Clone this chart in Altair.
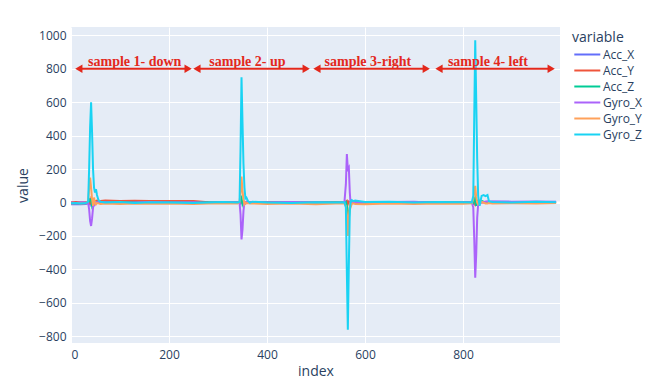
import altair as alt
import pandas as pd

# ---------------- data ----------------
index = [0, 10, 20, 30, 35, 37, 39, 41, 43, 45,
         47, 49, 51, 53, 56, 60, 70, 100, 130, 160,
         200, 250, 280, 310, 340, 344, 346, 348, 350, 352,
         354, 356, 358, 361, 365, 370, 400, 450, 500, 540,
         558, 561, 563, 565, 567, 569, 571, 573, 576, 580,
         600, 650, 700, 750, 800, 818, 821, 823, 825, 827,
         829, 831, 834, 838, 842, 846, 850, 853, 860, 900,
         950, 990]

acc_x = [-10, -9, -10, -9, -5, 5, -10, 10, 0, -5,
         0, 2, 0, 1, 0, 0, 1, 0, 2, 0,
         1, 0, 0, 1, 0, 0, -5, 5, 0, 0,
         1, 0, 0, 0, 1, 0, 0, 1, 0, 0,
         0, 2, -5, 5, 0, 1, 0, 1, 0, 0,
         0, 1, 0, 0, 1, 0, -5, 5, -10, 0,
         2, 1, 3, 4, 3, 5, 4, 3, 5, 4,
         4, 5]

acc_y = [2, 3, 2, 3, 5, 15, -10, 20, 5, -5,
         10, 8, 10, 12, 10, 10, 12, 10, 11, 10,
         10, 10, 2, 0, 0, 0, 5, 10, -5, 2,
         0, 1, 0, 0, 1, 0, 0, 1, 0, 0,
         0, 5, 10, -10, 5, 0, 2, 0, 1, 0,
         0, 1, 0, 1, 0, 0, 5, 10, -10, 5,
         0, 2, 0, 1, 0, 1, 0, 1, 0, 1,
         0, 1]

acc_z = [-3, -2, -4, -3, 0, 10, 20, 15, -20, -5,
         10, 0, 3, 0, 2, 0, 3, 0, 2, 0,
         2, 0, 1, 0, 0, 0, 20, 30, -10, 5,
         0, 2, 0, 0, 2, 1, 0, 1, 0, 0,
         0, 5, -20, -60, -100, -30, 5, 0, 2, 0,
         1, 0, 2, 0, 1, 0, -5, 20, 30, -20,
         10, 5, 2, 10, 5, 3, 4, 2, 1, 0,
         2, 1]

gyro_x = [0, -2, 2, 0, 0, -40, -110, -140, -95, -30,
          12, -10, 2, 0, 3, 0, 2, -2, 0, 3,
          0, 2, -2, 0, 0, 0, -70, -220, -160, -50,
          2, -5, 5, 0, 0, 2, 0, 3, 0, -2,
          0, 110, 290, 200, 210, 60, -20, 0, 3, 2,
          0, 3, 5, -2, 0, 0, -30, -220, -450, -310,
          -90, -10, 5, 0, 3, 5, 8, 5, 6, 5,
          6, 4]

gyro_y = [-5, -3, -6, -4, 10, 80, 150, 90, 20, -20,
          30, -5, -10, -2, -5, -8, -6, -8, -5, -7,
          -5, -8, -6, -4, -5, 5, 60, 155, 70, 20,
          -10, 0, -5, -3, -6, -5, -8, -5, -10, -6,
          -5, -20, -70, -200, -90, -15, -25, -8, -5, -8,
          -10, -6, -8, -5, -7, -5, 20, 60, 100, 35,
          0, -10, -5, 5, 0, -5, -5, -3, -5, -4,
          -5, -3]

gyro_z = [-4, -2, -5, -3, 5, 200, 450, 600, 420, 200,
          90, 60, 80, 45, 15, 5, 0, 3, -2, 2,
          0, -2, 0, 3, 0, 5, 320, 750, 480, 230,
          90, 25, 30, 10, -2, 5, 0, -3, 2, 0,
          2, -30, -420, -760, -380, -50, 10, 15, 8, 12,
          3, 5, 0, 4, 2, 0, 40, 520, 970, 620,
          260, 40, -20, 40, 45, 38, 45, 8, 3, 0,
          5, 2]

names = ["Acc_X", "Acc_Y", "Acc_Z", "Gyro_X", "Gyro_Y", "Gyro_Z"]
colors = ["#636efa", "#EF553B", "#00cc96", "#ab63fa", "#FFA15A", "#19d3f3"]

y_ticks = [-800, -600, -400, -200, 0, 200, 400, 600, 800, 1000]
x_ticks = [0, 200, 400, 600, 800]

arrow_start = [16, 257, 502, 751]
arrow_end = [239, 480, 725, 980]
arrow_level = [800, 800, 800, 800]
label_text = ["sample 1- down", "sample 2- up", "sample 3-right", "sample 4- left"]
label_center = [130, 360, 606, 851]
label_level = [840, 840, 840, 840]

# ---------------- tables ----------------
series = [acc_x, acc_y, acc_z, gyro_x, gyro_y, gyro_z]
rows = []
for name, vals in zip(names, series):
    for i, v in zip(index, vals):
        rows.append({"index": i, "value": v, "variable": name})
df = pd.DataFrame(rows)

arrows = pd.DataFrame({"index": arrow_start, "index_end": arrow_end, "value": arrow_level})
labels = pd.DataFrame({"index": label_center, "value": label_level, "text": label_text})
zero = pd.DataFrame({"value": [0]})

RED = "#e3281c"
FONT = "Open Sans"

xscale = alt.Scale(domain=[0, 998], nice=False, zero=False)
yscale = alt.Scale(domain=[-840, 1050], nice=False, zero=False)

xaxis = alt.Axis(values=x_ticks, title="index", labelPadding=6, titlePadding=4,
                 labelOverlap=False, tickCount=5, format="d")
yaxis = alt.Axis(values=y_ticks, title="value", labelPadding=5, titlePadding=8,
                 labelOverlap=False, tickCount=10, format="d")


def X(field="index"):
    return alt.X(f"{field}:Q", scale=xscale, axis=xaxis)


def Y():
    return alt.Y("value:Q", scale=yscale, axis=yaxis)


zero_line = alt.Chart(zero).mark_rule(color="white", strokeWidth=2).encode(y=Y())

lines = alt.Chart(df).mark_line(strokeWidth=2, clip=True).encode(
    x=X(),
    y=Y(),
    color=alt.Color(
        "variable:N",
        scale=alt.Scale(domain=names, range=colors),
        sort=names,
        legend=alt.Legend(title="variable", symbolType="M-0.8,0H3.2", symbolSize=169,
                          symbolStrokeWidth=2, offset=8, padding=4, labelOffset=16,
                          rowPadding=2, titlePadding=2),
    ),
)

arrow_lines = alt.Chart(arrows).mark_rule(color=RED, strokeWidth=2).encode(
    x=X(), x2="index_end:Q", y=Y(),
)
heads_left = alt.Chart(arrows).mark_point(shape="triangle-left", filled=True, size=70,
                                          color=RED, opacity=1).encode(x=X(), y=Y())
heads_right = alt.Chart(arrows).mark_point(shape="triangle-right", filled=True, size=70,
                                           color=RED, opacity=1).encode(x=X("index_end"), y=Y())
texts = alt.Chart(labels).mark_text(color=RED, font="Liberation Serif", fontWeight="bold",
                                    fontSize=14, align="center", baseline="middle").encode(
    x=X(), y=Y(), text="text:N",
)

chart = alt.layer(zero_line, lines, arrow_lines, heads_left, heads_right, texts).properties(
    width=489,
    height=316,
    padding={"left": 63, "top": 19, "right": 100, "bottom": 37},
    autosize=alt.AutoSizeParams(type="none"),
    background="white",
).configure_view(
    fill="#E5ECF6", strokeWidth=0
).configure_axis(
    grid=True, gridColor="white", gridWidth=1, domain=False, ticks=False,
    labelColor="#2a3f5f", labelFont=FONT, labelFontSize=12,
    titleColor="#2a3f5f", titleFont=FONT, titleFontSize=14, titleFontWeight="normal",
).configure_legend(
    labelColor="#2a3f5f", labelFont=FONT, labelFontSize=12,
    titleColor="#2a3f5f", titleFont=FONT, titleFontSize=14, titleFontWeight="normal",
)

chart.save("out.html", embed_options={"renderer": "svg", "actions": False})
